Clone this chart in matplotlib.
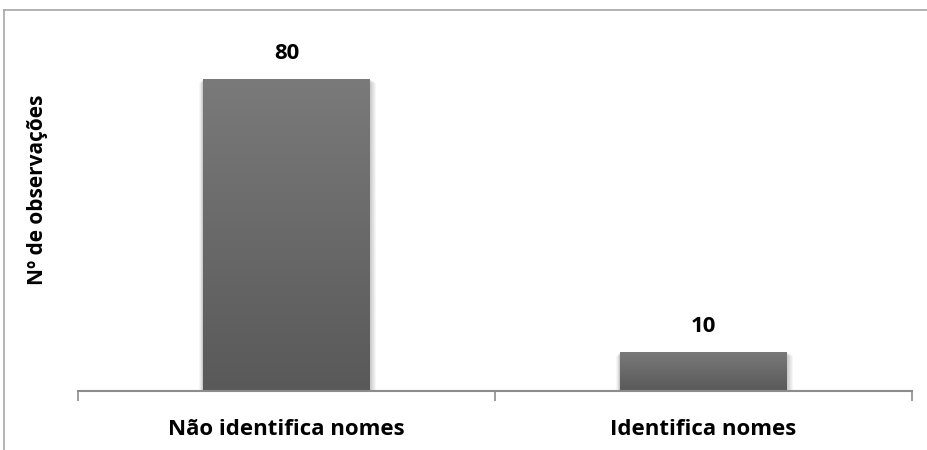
import numpy as np
import matplotlib
matplotlib.use("Agg")
import matplotlib.pyplot as plt
from matplotlib.patches import Rectangle
from matplotlib.lines import Line2D

categories = ["Não identifica nomes", "Identifica nomes"]
values = [80, 10]
ylabel = "Nº de observações"

plt.rcParams["font.family"] = ["Open Sans", "DejaVu Sans"]

W, H = 928, 450
fig = plt.figure(figsize=(W / 100, H / 100), dpi=100)
fig.patch.set_facecolor("white")

# outer chart frame (top and left edges visible)
fig.add_artist(Line2D([4 / W, 1.0], [1 - 10 / H, 1 - 10 / H], color="#a6a6a6", lw=1.2))
fig.add_artist(Line2D([4 / W, 4 / W], [0, 1 - 10 / H], color="#a6a6a6", lw=1.2))

ax = fig.add_axes([78 / W, 59 / H, (912 - 78) / W, 390 / H])
ax.set_facecolor("none")

bar_w = 0.4
grad = np.linspace(0, 1, 256).reshape(-1, 1)
cmap = matplotlib.colors.LinearSegmentedColormap.from_list("g", ["#595959", "#7a7a7a"])

for i, v in enumerate(values):
    x0 = i - bar_w / 2
    # soft drop shadow
    for k in range(6, 0, -1):
        dx = 0.0025 * k
        dy = 0.25 * k
        ax.add_patch(Rectangle((x0 - dx * 0.6, -dy), bar_w + dx * 1.6, v + dy * 0.4,
                               facecolor="black", alpha=0.035, lw=0, zorder=1))
    rect = Rectangle((x0, 0), bar_w, v, facecolor="none", lw=0, zorder=3)
    ax.add_patch(rect)
    im = ax.imshow(grad, extent=(x0, x0 + bar_w, 0, v), origin="lower", cmap=cmap,
                   aspect="auto", zorder=2, interpolation="bilinear")
    im.set_clip_path(rect)
    ax.text(i, v + 5.0, str(v), ha="center", va="baseline", fontsize=16, fontweight="bold",
            color="black")

ax.set_xlim(-0.5, len(categories) - 0.5)
ax.set_ylim(0, 100)

for s in ["top", "right", "left"]:
    ax.spines[s].set_visible(False)
ax.spines["bottom"].set_color("#8c8c8c")
ax.spines["bottom"].set_linewidth(1.5)
ax.spines["bottom"].set_zorder(4)

ax.set_yticks([])
ax.set_xticks(range(len(categories)))
ax.set_xticklabels(categories, fontsize=16, fontweight="bold")
ax.tick_params(axis="x", which="major", length=0, pad=20)
ax.set_xticks([-0.5, 0.5, 1.5], minor=True)
ax.tick_params(axis="x", which="minor", length=7, width=1.2, color="#8c8c8c", direction="out")

fig.text(38 / W, 1 - 190 / H, ylabel, rotation=90, ha="center", va="center",
         fontsize=15, fontweight="bold")

fig.savefig("out.png", dpi=100)
